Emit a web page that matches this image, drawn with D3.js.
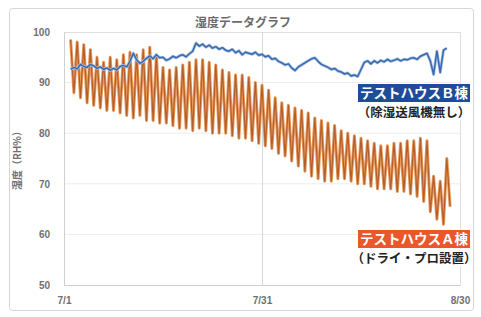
<!DOCTYPE html>
<html>
<head>
<meta charset="utf-8">
<script src="https://cdn.jsdelivr.net/npm/d3@7"></script>
<style>
  body { margin: 0; background: #fff; }
  svg { display: block; font-family: "Noto Sans CJK JP", "Noto Sans", sans-serif; }
</style>
</head>
<body>
<script>
// y axis ticks and x tick labels (days after 7/1)
const yTicks = [50, 60, 70, 80, 90, 100];
const xTickDays = [0, 30, 60];
const xTickLabels = ["7/1", "7/31", "8/30"];

// house A (dry pro): one daily high and one daily low, days 1..58
const aDays = d3.range(1, 59);
const aHigh = [98.5, 98, 97.5, 96.5, 95, 94, 95, 94.5, 95.5, 96,
  95.5, 96.5, 97, 95.5, 93, 92.5, 93, 93.5, 94, 94.5,
  94.5, 94, 93.5, 92.5, 92, 91.5, 91.5, 91, 90, 89.5,
  88.5, 87, 86, 85.5, 85, 84.5, 84, 83, 82.5, 82,
  81.5, 80.5, 80, 79.5, 79, 78.5, 78, 77.5, 77.5, 78,
  78, 78.5, 78.5, 79, 78.5, 71.5, 70.5, 75];
const aLow = [88, 87, 86, 85.5, 85, 84.5, 84.5, 84, 83.5, 83,
  83.5, 82.5, 82.5, 82, 82, 81.5, 81, 81, 80.5, 81,
  80.5, 80, 80, 80, 79.5, 79, 79, 78.5, 78, 77.5,
  77, 76, 75.5, 74.5, 73.5, 72.5, 71.5, 71, 70.5, 70.5,
  71, 71, 70.5, 70, 70, 69.5, 69, 69, 69, 68.5,
  68.5, 68, 67.5, 66.5, 64.5, 63, 62, 65.5];

// house B (no dehumidifier): two readings per day from day 1
const bValues = [92.6, 93.0, 92.7, 93.6, 93.2, 93.0, 93.6, 93.3, 92.8, 93.1,
  92.6, 92.9, 92.4, 92.8, 92.5, 93.2, 93.4, 93.1, 94.2, 95.8,
  94.5, 93.8, 94.2, 94.8, 95.3, 94.7, 95.5, 94.9, 95.0, 94.4,
  94.7, 95.2, 94.9, 95.3, 95.5, 95.1, 95.7, 96.2, 97.8, 97.2,
  97.6, 97.0, 97.4, 96.8, 97.1, 96.6, 96.9, 96.4, 96.2, 96.6,
  95.9, 96.3, 95.5, 96.0, 95.8, 95.6, 96.0, 95.4, 95.6, 95.1,
  95.3, 94.6, 94.8, 94.2, 93.9, 93.5, 93.7, 92.9, 92.4, 93.1,
  93.5, 93.9, 94.3, 94.7, 94.9, 94.2, 93.6, 93.3, 93.0, 92.6,
  92.8, 92.3, 92.1, 91.7, 91.9, 91.3, 91.5, 91.2, 92.6, 94.0,
  94.3, 93.7, 94.3, 93.9, 94.4, 94.1, 94.6, 94.2, 94.4, 94.7,
  94.3, 94.6, 94.5, 94.8, 94.9, 94.6, 95.2, 95.5, 95.8, 94.3,
  91.6, 96.2, 92.0, 96.4, 96.8];

const width = 481, height = 317;
const plotLeft = 64, plotRight = 460, plotTop = 32, plotBottom = 285;

const svg = d3.select("body").append("svg")
  .attr("width", width)
  .attr("height", height);

// outer frame
svg.append("rect")
  .attr("x", 9.5).attr("y", 8.5)
  .attr("width", 464).attr("height", 302)
  .attr("rx", 3)
  .attr("fill", "#fff")
  .attr("stroke", "#d6d6d6");

const x = d3.scaleLinear().domain([0, 60]).range([plotLeft, plotRight]);
const y = d3.scaleLinear().domain([50, 100]).range([plotBottom, plotTop]);

// horizontal grid
svg.append("g")
  .selectAll("line")
  .data(yTicks.slice(1, -1))
  .join("line")
  .attr("x1", plotLeft).attr("x2", plotRight)
  .attr("y1", d => y(d)).attr("y2", d => y(d))
  .attr("stroke", "#ededed");

// plot border
svg.append("rect")
  .attr("x", plotLeft + 0.5).attr("y", plotTop + 0.5)
  .attr("width", plotRight - plotLeft).attr("height", plotBottom - plotTop)
  .attr("fill", "none")
  .attr("stroke", "#e0e0e0");

// 7/31 vertical line
svg.append("line")
  .attr("x1", x(30) + 0.5).attr("x2", x(30) + 0.5)
  .attr("y1", plotTop).attr("y2", plotBottom)
  .attr("stroke", "#d8d8d8");

const yAxis = d3.axisLeft(y).tickValues(yTicks).tickSize(0).tickPadding(14);
svg.append("g")
  .attr("transform", `translate(${plotLeft},0)`)
  .call(yAxis)
  .call(g => g.select(".domain").attr("stroke", "#d0d0d0"))
  .selectAll("text")
  .attr("fill", "#707070")
  .style("font-size", "10px")
  .style("font-weight", "bold");

const xAxis = d3.axisBottom(x).tickValues(xTickDays)
  .tickFormat((d, i) => xTickLabels[i]).tickSize(0).tickPadding(12);
svg.append("g")
  .attr("transform", `translate(0,${plotBottom})`)
  .call(xAxis)
  .call(g => g.select(".domain").attr("stroke", "#d0d0d0"))
  .selectAll("text")
  .attr("fill", "#707070")
  .style("font-size", "10px")
  .style("font-weight", "bold");

// house A line: peak then trough each day
const aPoints = [];
aDays.forEach((d, i) => {
  aPoints.push([d, aHigh[i]]);
  aPoints.push([d + 0.5, aLow[i]]);
});
const line = d3.line().x(d => x(d[0])).y(d => y(d[1]));

svg.append("path")
  .attr("d", line(aPoints))
  .attr("fill", "none")
  .attr("stroke", "#e8995c")
  .attr("stroke-width", 3)
  .attr("stroke-linejoin", "round");
svg.append("path")
  .attr("d", line(aPoints))
  .attr("fill", "none")
  .attr("stroke", "#b35f2c")
  .attr("stroke-width", 1.2)
  .attr("stroke-linejoin", "round");

// house B line
const bPoints = bValues.map((v, i) => [1 + i * 0.5, v]);
svg.append("path")
  .attr("d", line(bPoints))
  .attr("fill", "none")
  .attr("stroke", "#a6c2e4")
  .attr("stroke-width", 3)
  .attr("stroke-linejoin", "round");
svg.append("path")
  .attr("d", line(bPoints))
  .attr("fill", "none")
  .attr("stroke", "#3b68ad")
  .attr("stroke-width", 1.5)
  .attr("stroke-linejoin", "round");

// title
svg.append("text")
  .text("湿度データグラフ")
  .attr("x", 243).attr("y", 27)
  .attr("text-anchor", "middle")
  .attr("fill", "#6a6a6a")
  .style("font-size", "12px")
  .style("font-weight", "bold");

// y label
svg.append("text")
  .text("湿度（RH%）")
  .attr("transform", "translate(21,158) rotate(-90)")
  .attr("text-anchor", "middle")
  .attr("fill", "#707070")
  .style("font-size", "10px")
  .style("font-weight", "bold");

// legend labels
function tag(y0, color, label, sub) {
  svg.append("rect")
    .attr("x", 358).attr("y", y0)
    .attr("width", 112).attr("height", 18)
    .attr("fill", color);
  svg.append("text")
    .text(label)
    .attr("x", 414).attr("y", y0 + 14)
    .attr("text-anchor", "middle")
    .attr("fill", "#fff")
    .style("font-size", "13.5px")
    .style("font-weight", "bold");
  svg.append("rect")
    .attr("x", 358).attr("y", y0 + 19)
    .attr("width", 112).attr("height", 17)
    .attr("fill", "#fff");
  svg.append("text")
    .text(sub)
    .attr("x", 414).attr("y", y0 + 33)
    .attr("text-anchor", "middle")
    .attr("fill", "#222")
    .style("font-size", "12.5px")
    .style("font-weight", "bold");
}
tag(84, "#1f4c99", "テストハウスＢ棟", "（除湿送風機無し）");
tag(230, "#e9572a", "テストハウスＡ棟", "（ドライ・プロ設置）");
</script>
</body>
</html>
